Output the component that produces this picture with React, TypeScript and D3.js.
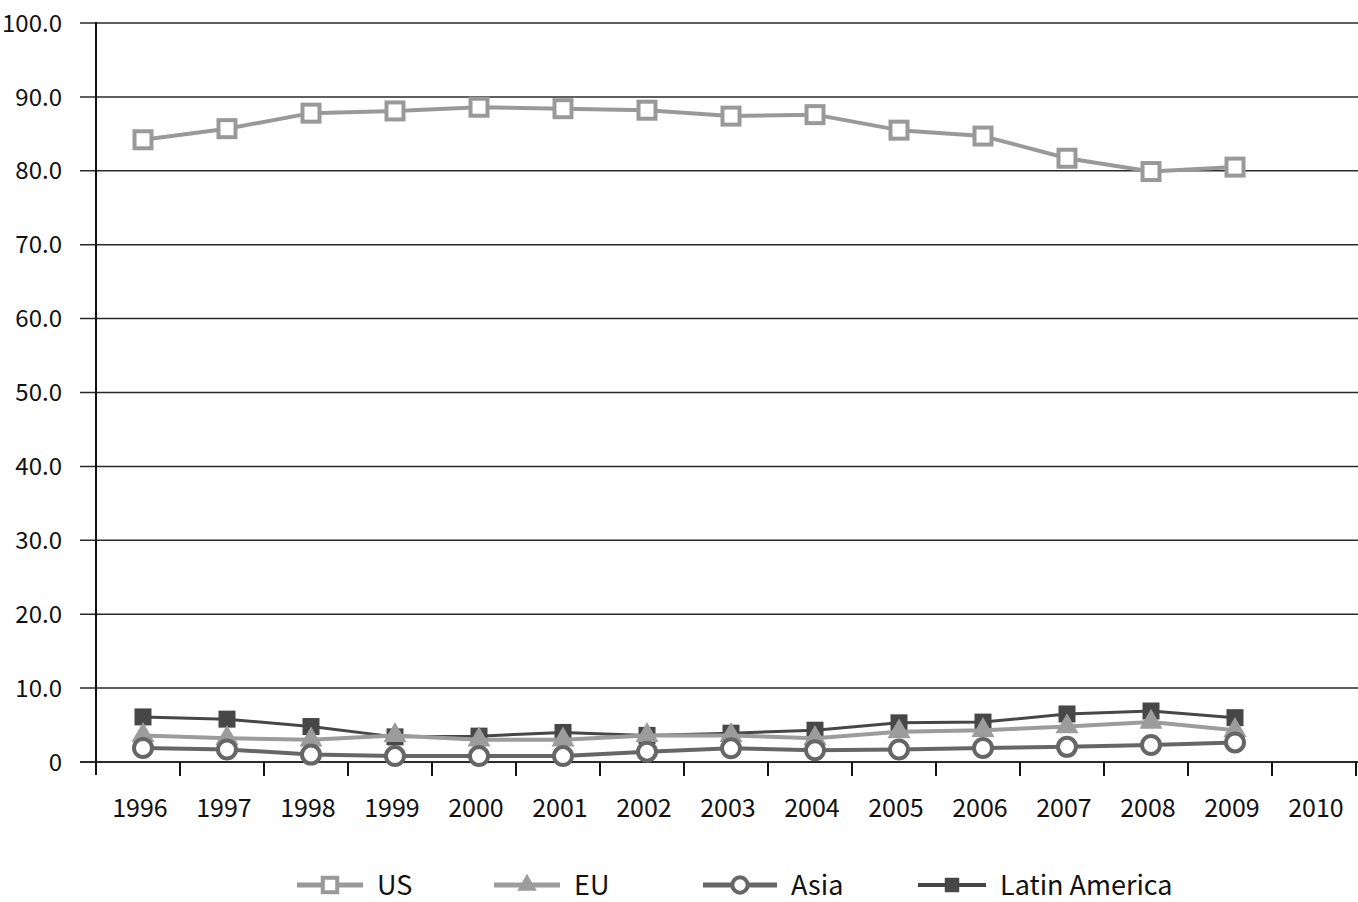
import { useEffect, useRef } from "react";
import * as d3 from "d3";

const W = 1358;
const H = 902;

const years = ["1996", "1997", "1998", "1999", "2000", "2001", "2002", "2003", "2004", "2005", "2006", "2007", "2008", "2009", "2010"];
const yTicks = [0, 10, 20, 30, 40, 50, 60, 70, 80, 90, 100];

const usValues = [84.2, 85.7, 87.8, 88.1, 88.6, 88.4, 88.2, 87.4, 87.6, 85.5, 84.7, 81.7, 79.9, 80.5];
const euValues = [3.6, 3.2, 3.0, 3.6, 3.0, 3.0, 3.6, 3.6, 3.2, 4.1, 4.3, 4.8, 5.4, 4.3];
const asiaValues = [1.9, 1.7, 1.0, 0.8, 0.8, 0.8, 1.4, 1.85, 1.6, 1.7, 1.9, 2.05, 2.3, 2.65];
const latamValues = [6.1, 5.8, 4.8, 3.4, 3.5, 4.0, 3.6, 3.9, 4.3, 5.3, 5.4, 6.5, 6.9, 6.0];

const FONT = "'Noto Sans CJK KR', 'Noto Sans', sans-serif";

type Series = {
  name: string;
  values: number[];
  color: string;
  width: number;
  marker: "square" | "triangle" | "circle" | "filledSquare";
};

const series: Series[] = [
  { name: "US", values: usValues, color: "#999999", width: 4, marker: "square" },
  { name: "EU", values: euValues, color: "#9c9c9c", width: 4, marker: "triangle" },
  { name: "Asia", values: asiaValues, color: "#666666", width: 4, marker: "circle" },
  { name: "Latin America", values: latamValues, color: "#474747", width: 3, marker: "filledSquare" },
];

function drawMarker(
  g: d3.Selection<SVGGElement, unknown, null, undefined>,
  s: Series,
  x: number,
  y: number,
  scale = 1
) {
  if (s.marker === "square") {
    const a = 17 * scale;
    g.append("rect")
      .attr("x", x - a / 2)
      .attr("y", y - a / 2)
      .attr("width", a)
      .attr("height", a)
      .attr("fill", "#fff")
      .attr("stroke", s.color)
      .attr("stroke-width", 4);
  } else if (s.marker === "triangle") {
    const sym = d3.symbol().type(d3.symbolTriangle).size(230 * scale * scale);
    g.append("path")
      .attr("d", sym() ?? "")
      .attr("transform", `translate(${x},${y})`)
      .attr("fill", s.color);
  } else if (s.marker === "circle") {
    g.append("circle")
      .attr("cx", x)
      .attr("cy", y)
      .attr("r", 9 * scale)
      .attr("fill", "#fff")
      .attr("stroke", s.color)
      .attr("stroke-width", 4);
  } else {
    const a = 17 * scale;
    g.append("rect")
      .attr("x", x - a / 2)
      .attr("y", y - a / 2)
      .attr("width", a)
      .attr("height", a)
      .attr("fill", s.color);
  }
}

export default function App() {
  const svgRef = useRef<SVGSVGElement | null>(null);

  useEffect(() => {
    document.body.style.margin = "0";
    const svg = d3.select(svgRef.current);
    svg.selectAll("*").remove();

    const left = 96;
    const right = 1356;
    const top = 23;
    const bottom = 762;

    const x = d3.scaleBand<string>().domain(years).range([left, right]);
    // markers sit slightly right of the band centre in the original
    const xp = (i: number) => (x(years[i]) ?? 0) + x.bandwidth() / 2 + 5;
    const y = d3.scaleLinear().domain([0, 100]).range([bottom, top]);

    // gridlines
    svg
      .append("g")
      .selectAll("line")
      .data(yTicks)
      .join("line")
      .attr("x1", 80)
      .attr("x2", W)
      .attr("y1", (d) => y(d))
      .attr("y2", (d) => y(d))
      .attr("stroke", "#2a2a2a")
      .attr("stroke-width", (d) => (d === 0 ? 2 : 1.5));

    // y labels
    svg
      .append("g")
      .selectAll("text")
      .data(yTicks)
      .join("text")
      .attr("x", 62)
      .attr("y", (d) => y(d))
      .attr("dy", "0.36em")
      .attr("text-anchor", "end")
      .attr("font-family", FONT)
      .attr("font-size", 24)
      .attr("fill", "#111")
      .text((d) => (d === 0 ? "0" : d.toFixed(1)));

    // y axis line
    svg
      .append("line")
      .attr("x1", left)
      .attr("x2", left)
      .attr("y1", top - 1)
      .attr("y2", bottom + 13)
      .attr("stroke", "#111")
      .attr("stroke-width", 2);

    // x ticks at band boundaries
    svg
      .append("g")
      .selectAll("line")
      .data(years)
      .join("line")
      .attr("x1", (d) => (x(d) ?? 0) + x.bandwidth())
      .attr("x2", (d) => (x(d) ?? 0) + x.bandwidth())
      .attr("y1", bottom)
      .attr("y2", bottom + 14)
      .attr("stroke", "#111")
      .attr("stroke-width", 2);

    // x labels
    svg
      .append("g")
      .selectAll("text")
      .data(years)
      .join("text")
      .attr("x", (d) => (x(d) ?? 0) + x.bandwidth() / 2 + 2)
      .attr("y", 808)
      .attr("dy", "0.36em")
      .attr("text-anchor", "middle")
      .attr("font-family", FONT)
      .attr("font-size", 25)
      .attr("fill", "#111")
      .text((d) => d);

    const line = d3
      .line<number>()
      .x((_, i) => xp(i))
      .y((d) => y(d));

    // draw back-to-front: US, Latin America, EU, Asia
    const order = [series[0], series[3], series[1], series[2]];
    order.forEach((s) => {
      const g = svg.append("g");
      g.append("path")
        .attr("d", line(s.values) ?? "")
        .attr("fill", "none")
        .attr("stroke", s.color)
        .attr("stroke-width", s.width)
        .attr("stroke-linejoin", "round");
      s.values.forEach((v, i) => drawMarker(g, s, xp(i), y(v)));
    });

    // legend
    const legendX = [297, 494, 703, 918];
    const ly = 885;
    series.forEach((s, i) => {
      const g = svg.append("g");
      const x0 = legendX[i];
      const len = s.name === "Latin America" ? 68 : s.name === "Asia" ? 74 : 66;
      g.append("line")
        .attr("x1", x0)
        .attr("x2", x0 + len)
        .attr("y1", ly)
        .attr("y2", ly)
        .attr("stroke", s.color)
        .attr("stroke-width", s.width + 1);
      drawMarker(g, s, x0 + len / 2, ly, 0.85);
      g.append("text")
        .attr("x", x0 + len + 14)
        .attr("y", ly)
        .attr("dy", "0.36em")
        .attr("font-family", FONT)
        .attr("font-size", 27)
        .attr("fill", "#111")
        .text(s.name);
    });
  }, []);

  return <svg ref={svgRef} width={W} height={H} style={{ display: "block", background: "#fff" }} />;
}
